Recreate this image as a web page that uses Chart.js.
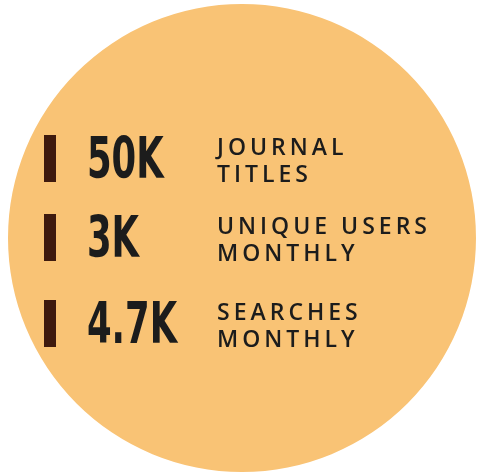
<!DOCTYPE html>
<html>
<head>
<meta charset="utf-8">
<script src="https://cdn.jsdelivr.net/npm/chart.js@4/dist/chart.umd.min.js"></script>
<style>
  html, body { margin: 0; padding: 0; background: #ffffff; }
  #wrap { width: 477px; height: 472px; position: relative; }
</style>
</head>
<body>
<div id="wrap"><canvas id="stats"></canvas></div>
<script>
// Data
const circleValues = [1];
const statValues = ['50K', '3K', '4.7K'];
const statLabels = [['JOURNAL', 'TITLES'], ['UNIQUE USERS', 'MONTHLY'], ['SEARCHES', 'MONTHLY']];

// Layout / style
const rowTops = [135, 214, 300];
const circleColor = '#F9C375';
const markerColor = '#3F1A0E';
const textColor = '#1c1c1c';

// draws the stat rows over the circle
const statsPlugin = {
  id: 'statsRows',
  afterDatasetsDraw(chart) {
    const ctx = chart.ctx;
    ctx.save();
    statValues.forEach((value, i) => {
      const top = rowTops[i];

      // marker bar
      ctx.fillStyle = markerColor;
      ctx.fillRect(44, top, 12, 47);

      // big number, squeezed to look condensed
      ctx.fillStyle = textColor;
      ctx.textBaseline = 'alphabetic';
      ctx.font = 'bold 57px "DejaVu Sans Condensed", "DejaVu Sans", sans-serif';
      ctx.letterSpacing = '0px';
      const w = ctx.measureText(value).width;
      ctx.fillText(value, 87, top + 43, w * 0.69);

      // label lines
      ctx.font = '600 23px "Open Sans", sans-serif';
      ctx.letterSpacing = '4px';
      statLabels[i].forEach((line, j) => {
        ctx.fillText(line, 217, top + 20 + j * 27);
      });
    });
    ctx.restore();
  }
};

new Chart(document.getElementById('stats'), {
  type: 'pie',
  data: {
    labels: ['circle'],
    datasets: [{
      data: circleValues,
      backgroundColor: circleColor,
      borderWidth: 0,
      hoverOffset: 0
    }]
  },
  options: {
    responsive: true,
    maintainAspectRatio: false,
    animation: false,
    layout: { padding: { left: 8, right: 1, top: 4, bottom: 0 } },
    plugins: {
      legend: { display: false },
      tooltip: { enabled: false }
    }
  },
  plugins: [statsPlugin]
});
</script>
</body>
</html>
